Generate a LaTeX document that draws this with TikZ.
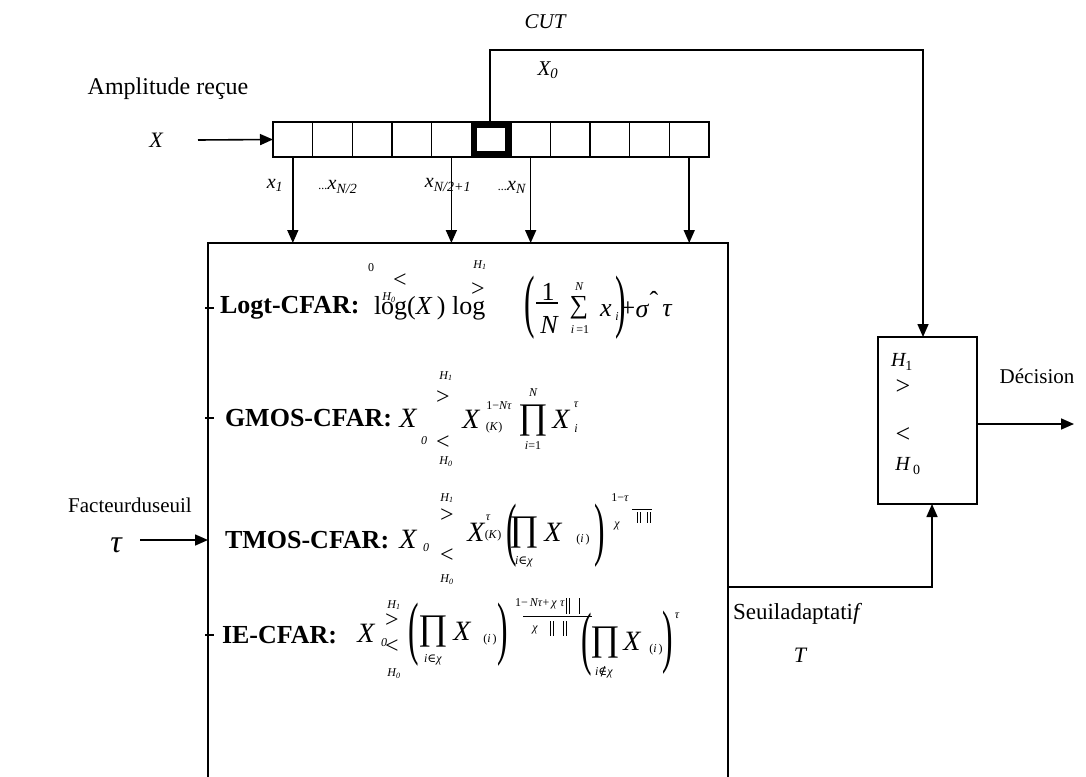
\documentclass[tikz,border=0pt]{standalone}
\usepackage{fontspec}
\usepackage{graphicx}
\setmainfont{Liberation Serif}
\newfontfamily\dvs{DejaVu Serif}
\usetikzlibrary{arrows.meta}
\newcommand\fsz[1]{\fontsize{#1}{#1}\selectfont}
\begin{document}
\begin{tikzpicture}[x=1pt,y=-1pt,
  every node/.style={inner sep=0pt, outer sep=0pt},
  txt/.style={font=\fsz{21}},
  bl/.style={font=\fsz{26}\bfseries, anchor=west},
  rm/.style={font=\fsz{26}},
  itx/.style={font=\fsz{26}\itshape},
  big/.style={font=\fsz{28}\itshape},
  sm/.style={font=\fsz{12}\itshape},
  smr/.style={font=\fsz{12}},
  rel/.style={font=\fsz{24}},
  prd/.style={font=\fsz{36}},
  paren/.style={font=\fsz{70}},
  arr/.style={line width=1.6pt, -{Triangle[length=13pt,width=11pt]}},
  ln/.style={line width=1.6pt},
  thin/.style={line width=1pt},
  cell/.style={draw, line width=1.4pt, minimum width=39.64pt, minimum height=35pt},
]
\useasboundingbox (0,0) rectangle (1086,776);

% ---------- register ----------
\foreach \k in {1,...,11}
  \node[cell] (c\k) at ({273+39.64*(\k-0.5)},139.5) {};
\node[draw, line width=6pt, minimum width=34pt, minimum height=29pt] (cutcell) at (c6) {};

\node[txt, font=\fsz{24}] (amp) at (168,89) {Amplitude reçue};
\node[txt, font=\fsz{22}\itshape] (xin) at (156,140) {X};
\coordinate (inarr) at (198,140);
\draw[arr] (inarr) -- (c1.west);

\node[txt, font=\fsz{21}\itshape] (cut) at (545,22) {CUT};
\node[txt, font=\fsz{21}\itshape] (x0) at (548,70) {X\textsubscript{0}};

% ---------- main box ----------
\node[draw, line width=1.6pt, minimum width=520pt, minimum height=547pt] (main) at (468,516.5) {};

% ---------- decision box ----------
\node[draw, line width=1.6pt, minimum width=99pt, minimum height=167pt] (dec) at (927.5,420.5) {};
\node[font=\fsz{20}\itshape] (dh1) at (902,362) {H\textsubscript{\upshape 1}};
\node[font=\fsz{26}] (dgt) at (903,387) {>};
\node[font=\fsz{26}] (dlt) at (903,435) {<};
\node[font=\fsz{20}\itshape] (dh0) at (908,466) {H\,\textsubscript{\upshape 0}};
\node[txt] (decision) at (1037,376) {Décision};
\coordinate (decout) at (1074,424);
\draw[arr] (dec.east |- decout) -- (decout);

% CUT path
\coordinate (cutturn) at (490,50);
\coordinate (dectop) at (923,337);
\draw[arr] (cutturn |- cutcell.north) -- (cutturn) -| (dectop);

% down arrows
\foreach \k in {1,5,7,11}
  \draw[arr] (c\k.south) -- (c\k.south |- main.north);
\node[font=\fsz{20}\itshape] (lx1) at (275,185) {x\textsubscript{1}};
\node[font=\fsz{20}\itshape] (lxn2) at (338,187) {\fsz{12}...\fsz{20}x\textsubscript{N/2}};
\node[font=\fsz{20}\itshape] (lxn21) at (448,185) {x\textsubscript{N/2+1}};
\node[font=\fsz{20}\itshape] (lxn) at (512,187) {\fsz{12}...\fsz{20}x\textsubscript{N}};

% threshold
\node[txt, font=\fsz{23}, anchor=west] (seuil) at (733,614) {Seuiladaptati\textit{f}};
\node[font=\fsz{22}\itshape] (T) at (800,655) {T};
\coordinate (thr) at (932,587);
\coordinate (decbot) at (932,504);
\draw[arr] (main.east |- thr) -- (thr) -- (decbot);

% tau input
\node[txt] (facteur) at (130,505) {Facteurduseuil};
\node[font=\fsz{32}\itshape] (tauL) at (116,545) {τ};
\coordinate (tauin) at (140,540);
\draw[arr] (tauin) -- (tauin -| main.west);

% ticks
\draw[ln] (205,308) -- (214,308);
\draw[ln] (205,418) -- (214,418);
\draw[ln] (205,635) -- (214,635);

% ---------- Logt row ----------
\node[bl] (logt) at (220,308) {Logt-CFAR:};
\node[rm, anchor=west] (logx) at (374,308) {log(\textit{X}\,) log};
\node[smr] (z1) at (371,268) {0};
\node[rel] (lt1) at (400,281) {<};
\node[sm] (h01) at (389,298) {H\textsubscript{0}};
\node[sm] (h11) at (480,265) {H\textsubscript{1}};
\node[rel] (gt1) at (478,290) {>};
\node[paren] (lp1) at (530,308) {\scalebox{0.45}[1]{(}};
\node[rm] (one1) at (548,292) {1};
\draw[ln] (536,303) -- (558,303);
\node[itx] (n1) at (549,325) {N};
\node[font=\fsz{26}] (sum1) at (579,308) {∑};
\node[sm] (sumN) at (579,287) {N};
\node[smr] (sumi) at (580,330) {\textit{i}\,=1};
\node[itx] (xi1) at (606,311) {x};
\node[sm] (xii) at (617,317) {i};
\node[rm] (plus1) at (628,309) {+};
\node[paren] (rp1) at (621,308) {\scalebox{0.45}[1]{)}};
\node[itx] (sig1) at (642,311) {σ};
\node[rm] (hat1) at (654,300) {ˆ};
\node[itx] (tau1) at (667,311) {τ};

% ---------- GMOS row ----------
\node[bl] (gmos) at (225,418) {GMOS-CFAR:};
\node[big] (x02) at (408,418) {X};
\node[sm] (z2) at (424,441) {0};
\node[sm] (h12) at (446,376) {H\textsubscript{1}};
\node[rel] (gt2) at (443,398) {>};
\node[rel] (lt2) at (443,443) {<};
\node[sm] (h02) at (446,462) {H\textsubscript{0}};
\node[big] (xk2) at (471,419) {X};
\node[smr] (e2) at (499,406) {1−\textit{Nτ}};
\node[smr] (k2) at (494,428) {(\textit{K})};
\node[prd] (prod2) at (533,421) {∏};
\node[sm] (pn2) at (533,393) {N};
\node[smr] (pi2) at (533,446) {\textit{i}=1};
\node[big] (xi2) at (561,419) {X};
\node[sm] (t2) at (576,405) {τ};
\node[sm] (i2) at (576,429) {i};

% ---------- TMOS row ----------
\node[bl] (tmos) at (225,540) {TMOS-CFAR:};
\node[big] (x03) at (408,539) {X};
\node[sm] (z3) at (426,548) {0};
\node[sm] (h13) at (447,498) {H\textsubscript{1}};
\node[rel] (gt3) at (447,516) {>};
\node[rel] (lt3) at (447,556) {<};
\node[sm] (h03) at (447,580) {H\textsubscript{0}};
\node[big] (xk3) at (476,532) {X};
\node[sm] (t3) at (488,518) {τ};
\node[smr] (k3) at (493,536) {(\textit{K})};
\node[paren] (lp3) at (512,536) {\scalebox{0.45}[1]{(}};
\node[prd] (prod3) at (524,533) {∏};
\node[smr] (pi3) at (524,562) {\textit{i}{\dvs ∈}\textit{χ}};
\node[big] (xi3) at (553,532) {X};
\node[smr] (ii3) at (583,540) {(\textit{i}\,)};
\node[paren] (rp3) at (600,536) {\scalebox{0.45}[1]{)}};
\node[smr] (e3) at (620,498) {1−\textit{τ}};
\node[sm] (chi3) at (617,526) {χ};
\draw[thin] (632,509) -- (652,509);
\draw[thin] (637,512) -- (637,523) (640,512) -- (640,523);
\draw[thin] (647,512) -- (647,523) (650,512) -- (650,523);

% ---------- IE row ----------
\node[bl] (ie) at (222,635) {IE-CFAR:};
\node[big] (x04) at (366,633) {X};
\node[sm] (z4) at (384,643) {0};
\node[sm] (h14) at (394,605) {H\textsubscript{1}};
\node[rel] (gt4) at (392,621) {>};
\node[rel] (lt4) at (392,647) {<};
\node[sm] (h04) at (394,674) {H\textsubscript{0}};
\node[paren] (lp4) at (414,635) {\scalebox{0.45}[1]{(}};
\node[prd] (prod4) at (433,632) {∏};
\node[smr] (pi4) at (433,660) {\textit{i}{\dvs ∈}\textit{χ}};
\node[big] (xi4) at (462,631) {X};
\node[smr] (ii4) at (490,640) {(\textit{i}\,)};
\node[paren] (rp4) at (503,635) {\scalebox{0.45}[1]{)}};
\node[smr] (e4) at (540,604) {1−\,\textit{Nτ}+\,\textit{χ}\;\textit{τ}};
\draw[thin] (523,616) -- (592,616);
\node[sm] (chi4) at (535,630) {χ};
\draw[thin] (550,621) -- (550,636) (553,621) -- (553,636);
\draw[thin] (563,621) -- (563,636) (566,621) -- (566,636);
\draw[thin] (566,598) -- (566,614) (569,598) -- (569,614);
\draw[thin] (579,598) -- (579,614);
\node[paren] (lp4b) at (587,645) {\scalebox{0.45}[1]{(}};
\node[prd] (prod4b) at (605,643) {∏};
\node[smr] (pi4b) at (604,672) {\textit{i}{\dvs ∉}\textit{χ}};
\node[big] (xi4b) at (632,641) {X};
\node[smr] (ii4b) at (656,650) {(\textit{i}\,)};
\node[paren] (rp4b) at (668,643) {\scalebox{0.45}[1]{)}};
\node[sm] (t4) at (677,616) {τ};
\end{tikzpicture}
\end{document}
